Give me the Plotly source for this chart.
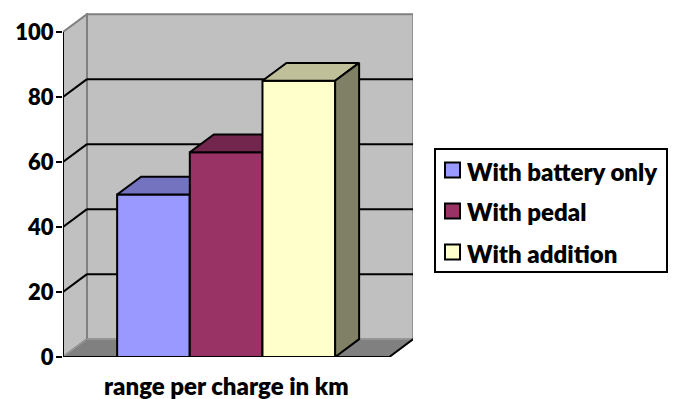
import plotly.graph_objects as go

# ---- data -------------------------------------------------------------
series = ["With battery only", "With pedal", "With addition"]
values = [50, 63, 85]
front_colors = ["#9999FF", "#993366", "#FFFFCC"]
top_colors = ["#7373BF", "#73264D", "#BFBF99"]
side_colors = ["#4D4D80", "#4D1933", "#808066"]
y_ticks = [0, 20, 40, 60, 80, 100]
x_title = "range per charge in km"

# ---- layout geometry --------------------------------------------------
W, H = 674, 399
L, R, T, B = 63, 261, 13, 42
plot_w = W - L - R
plot_h = H - T - B
px_per_y = 3.25          # pixels per value unit
px_per_x = 72.67         # pixels per bar width

x_left = -0.245                      # front-left corner of the floor
x_right = len(values) + 0.5 + 0.745  # front-right corner of the floor
x_max = x_left + plot_w / px_per_x
y_max = plot_h / px_per_y
dx, dy = 0.33, 5.5                   # depth offset of the 3-D box
y_top = max(y_ticks)

FONT = dict(family="Lato", size=24, color="black", weight=800)
TICK_FONT = dict(family="Lato", size=22, color="black", weight=800)

fig = go.Figure()
shapes = []

# back wall
shapes.append(dict(type="rect", xref="x", yref="y", layer="below",
                   x0=x_left + dx, x1=x_right + dx, y0=dy, y1=y_top + dy,
                   fillcolor="#C0C0C0", line=dict(color="#808080", width=2)))
# left side wall
shapes.append(dict(type="path", xref="x", yref="y", layer="below",
                   path=f"M {x_left},0 L {x_left + dx},{dy} L {x_left + dx},{y_top + dy} "
                        f"L {x_left},{y_top} Z",
                   fillcolor="#C0C0C0", line=dict(color="#808080", width=2)))
# floor
shapes.append(dict(type="path", xref="x", yref="y", layer="below",
                   path=f"M {x_left},0 L {x_right},0 L {x_right + dx},{dy} "
                        f"L {x_left + dx},{dy} Z",
                   fillcolor="#808080", line=dict(color="#A0A0A0", width=1)))
shapes.append(dict(type="line", xref="x", yref="y", layer="below",
                   x0=x_right, y0=0, x1=x_right + dx, y1=dy,
                   line=dict(color="black", width=2)))

# gridlines on back wall and side wall
for v in y_ticks[1:-1]:
    shapes.append(dict(type="line", xref="x", yref="y", layer="below",
                       x0=x_left + dx, x1=x_right + dx, y0=v + dy, y1=v + dy,
                       line=dict(color="black", width=2)))
    shapes.append(dict(type="line", xref="x", yref="y", layer="below",
                       x0=x_left, x1=x_left + dx, y0=v, y1=v + dy,
                       line=dict(color="black", width=2)))

# bars: front, top and side faces
for i, (name, v) in enumerate(zip(series, values)):
    xc = i + 1
    a, b = xc - 0.5, xc + 0.5
    faces = [
        ([a, b, b, a, a], [0, 0, v, v, 0], front_colors[i]),
        ([a, b, b + dx, a + dx, a], [v, v, v + dy, v + dy, v], top_colors[i]),
        ([b, b + dx, b + dx, b, b], [0, dy, v + dy, v, 0], side_colors[i]),
    ]
    for fx, fy, col in faces:
        fig.add_trace(go.Scatter(x=fx, y=fy, mode="lines", fill="toself",
                                 fillcolor=col, line=dict(color="black", width=2),
                                 name=name, showlegend=False, hoverinfo="skip"))

# front axes
shapes.append(dict(type="line", xref="x", yref="y", x0=x_left, x1=x_left,
                   y0=0, y1=y_top, line=dict(color="black", width=2)))
shapes.append(dict(type="line", xref="x", yref="y", x0=x_left, x1=x_right,
                   y0=0, y1=0, line=dict(color="black", width=2)))
for xe in (x_left, x_right):
    shapes.append(dict(type="line", xref="x", yref="y", x0=xe, x1=xe,
                       y0=0, y1=-7 / px_per_y, line=dict(color="black", width=2)))

# legend drawn in pixel space
def px(xp):
    return (xp - L) / plot_w

def py(yp):
    return (H - B - yp) / plot_h

shapes.append(dict(type="rect", xref="paper", yref="paper",
                   x0=px(435), x1=px(667), y0=py(272), y1=py(149),
                   fillcolor="white", line=dict(color="black", width=2)))
annotations = []
for i, name in enumerate(series):
    yc = 170 + i * 41
    shapes.append(dict(type="rect", xref="paper", yref="paper",
                       x0=px(445), x1=px(460), y0=py(yc + 7.5), y1=py(yc - 7.5),
                       fillcolor=front_colors[i], line=dict(color="black", width=2)))
    annotations.append(dict(xref="paper", yref="paper", x=px(465), y=py(yc + 1),
                            xanchor="left", yanchor="middle", showarrow=False,
                            text=name, font=FONT))

annotations.append(dict(xref="x", yref="paper", x=(x_left + x_right) / 2, y=py(385),
                        xanchor="center", yanchor="middle", showarrow=False,
                        text=x_title, font=FONT))

fig.update_layout(
    width=W, height=H,
    margin=dict(l=L, r=R, t=T, b=B, pad=0),
    paper_bgcolor="white", plot_bgcolor="white",
    shapes=shapes, annotations=annotations,
    showlegend=False,
    xaxis=dict(range=[x_left, x_max], visible=False, fixedrange=True),
    yaxis=dict(range=[0, y_max], tickvals=y_ticks, ticks="outside", ticklen=6,
               tickwidth=2, tickcolor="black", showgrid=False, zeroline=False,
               showline=False, tickfont=TICK_FONT, ticklabelstandoff=-2,
               fixedrange=True),
)

fig.write_html("out.html")
